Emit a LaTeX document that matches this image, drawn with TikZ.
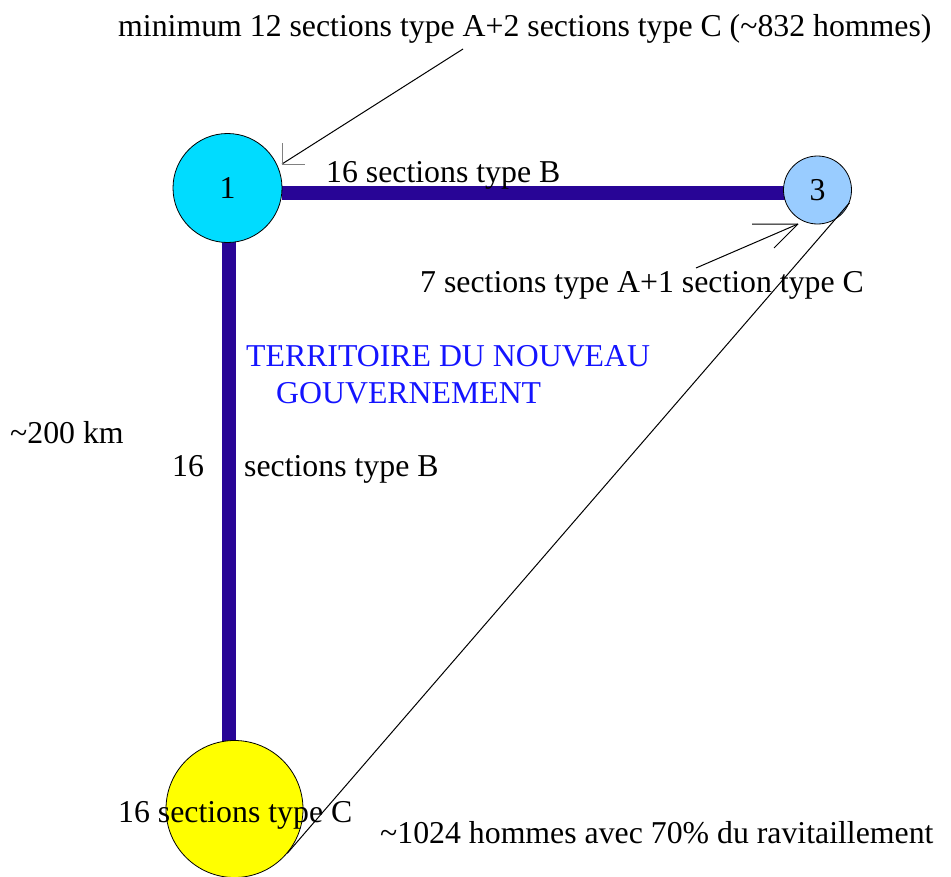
\documentclass[tikz,border=0pt]{standalone}
\usepackage{fontspec}
\setmainfont{Liberation Serif}
\definecolor{barcol}{RGB}{40,5,150}
\definecolor{cyanfill}{RGB}{0,220,255}
\definecolor{lbfill}{RGB}{153,204,255}
\definecolor{yelfill}{RGB}{255,255,0}
\definecolor{txtblue}{RGB}{20,20,255}
\tikzset{
  station/.style={circle,draw=black,line width=0.8pt,inner sep=0pt,font=\fontsize{31.8}{36}\selectfont},
  bar/.style={barcol,line width=13.5pt},
  lbl/.style={inner sep=0pt,font=\fontsize{31.8}{36}\selectfont},
  thin/.style={black,line width=1pt}
}
\begin{document}
\begin{tikzpicture}[x=1pt,y=-1pt]
\useasboundingbox (0,0) rectangle (951,876);
\path (227.5,188) coordinate (p1) (817.5,190) coordinate (p3) (234.5,809) coordinate (py);
% bars
\draw[bar] (282,193) -- (785,193);
\draw[bar] (229,240) -- (229,742);
% circles
\node[station,fill=cyanfill,minimum size=109pt] (c1) at (p1) {1};
\node[station,fill=lbfill,minimum size=68pt] (c3) at (p3) {3};
\node[station,fill=yelfill,minimum size=137pt] (cy) at (py) {};
% thin line from 3 to yellow
\draw[thin] (c3.338) -- (cy.320);
% arrow 1
\coordinate (s1) at (463,49);
\coordinate (t1) at (282,164);
\draw[thin] (s1) -- (t1);
\draw[gray,line width=1pt] (t1) -- ++(0,-21) (t1) -- ++(23,0);
% arrow 2
\coordinate (s2) at (696,268);
\coordinate (t2) at (798,224);
\draw[thin] (s2) -- (t2);
\draw[thin] (t2) -- (752,224) (t2) -- (774,248);
% texts
\node[lbl,anchor=base west] (ttop) at (118,36) {minimum 12 sections type A+2 sections type C (\textasciitilde832 hommes)};
\node[lbl,anchor=base west] (t16b) at (326,182) {16 sections type B};
\node[lbl,anchor=base west] (t7) at (420,292) {7 sections type A+1 section type C};
\node[lbl,anchor=base west,text=txtblue] (terr1) at (246,366) {TERRITOIRE DU NOUVEAU};
\node[lbl,anchor=base west,text=txtblue] (terr2) at (276,403) {GOUVERNEMENT};
\node[lbl,anchor=base west] (km) at (10,443) {\textasciitilde200 km};
\node[lbl,anchor=base west] (n16) at (172,476) {16};
\node[lbl,anchor=base west] (secb) at (244,476) {sections type B};
\node[lbl,anchor=base west] (secc) at (118,822) {16 sections type C};
\node[lbl,anchor=base west] (hom) at (380,843) {\textasciitilde1024 hommes avec 70\% du ravitaillement};
\end{tikzpicture}
\end{document}
